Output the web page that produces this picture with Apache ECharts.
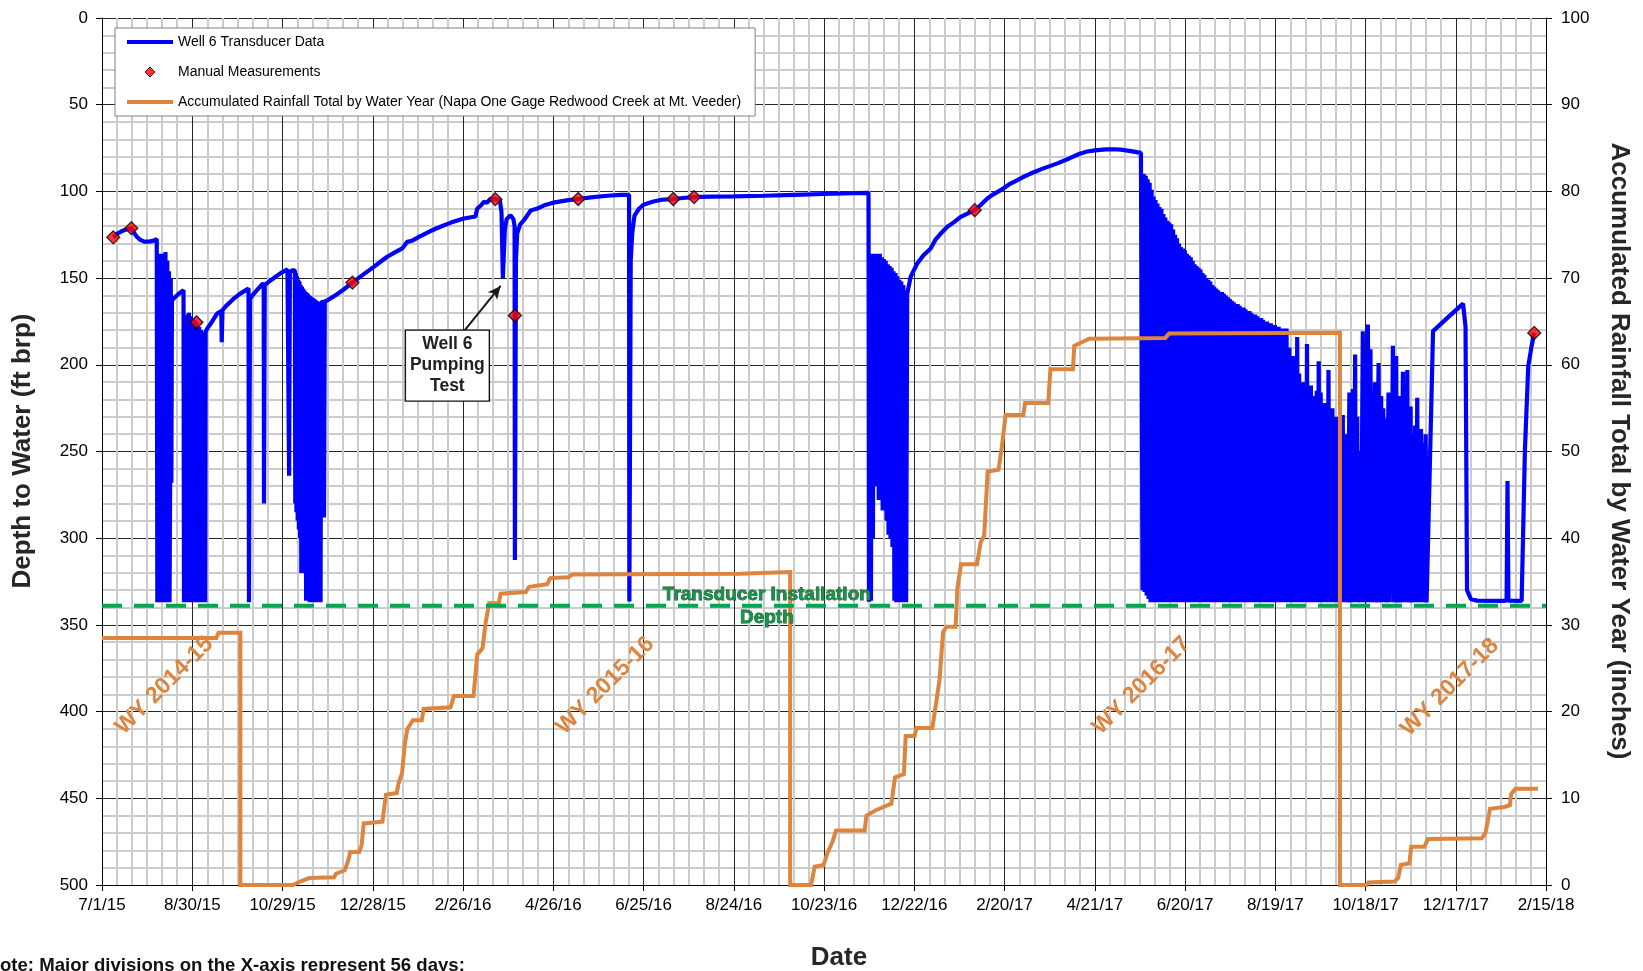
<!DOCTYPE html>
<html>
<head>
<meta charset="utf-8">
<title>Well 6 Hydrograph</title>
<script src="https://cdn.jsdelivr.net/npm/echarts@6/dist/echarts.min.js"></script>
<style>
html,body{margin:0;padding:0;background:#fff;}
#chart{width:1643px;height:971px;}
</style>
</head>
<body>
<div id="chart"></div>
<script>
// x values are days counted from 7/1/15 (day 0); major divisions every 60 days.
const xTickLabels = ['7/1/15','8/30/15','10/29/15','12/28/15','2/26/16','4/26/16','6/25/16','8/24/16',
  '10/23/16','12/22/16','2/20/17','4/21/17','6/20/17','8/19/17','10/18/17','12/17/17','2/15/18'];

// Well 6 transducer record: [day, depth to water (ft brp)]
const wellTransducer = [
  [7.5,126.5],[10,124.5],[13,123],[16,122],[19.5,121.2],[21,123.5],[23,126],[25.5,128],[28,129],[31,129],[34,128.5],[36.4,127.5],
  [36.6,127],[36.8,337],[37.3,337],[37.7,150],[38,337],[38.4,216],[38.7,136],[39.1,337],[39.5,337],[39.9,137],[40.3,337],[40.7,200],
  [41.1,136],[41.5,337],[41.9,337],[42.2,135],[42.6,337],[43,337],[43.4,140],[43.8,337],[44.2,250],[44.5,146],[44.9,337],[45.3,268],
  [45.7,150],[46.1,268],[46.5,163],[48.5,161],[51,159],[54.2,157],
  [54.5,337],[54.9,337],[55.4,172],[55.8,337],[56.2,337],[56.6,171],[57,337],[57.4,337],[57.8,170],[58.2,337],[58.6,337],[59,172],
  [59.4,337],[59.8,337],[60.2,173],[60.6,337],[61,337],[61.4,174],[61.8,337],[62.2,337],[62.8,175.5],[63.4,176],[63.8,337],[64.2,337],
  [64.6,178],[65,337],[65.4,337],[65.8,180],[66.2,337],[66.6,337],[67,181],[67.4,337],[67.8,337],[68.2,182],[68.6,337],[68.9,181],
  [70,179],[72.5,176],[76.5,170.5],[79.3,169],[79.6,187],[80.1,168.5],[82.5,166],[85.4,163.7],[88,161.5],[91,159.5],[94,157.8],[97.4,156],
  [97.7,337],[98.4,162],[100,160],[103,157],[106,154],[107.5,153],[107.7,280],[108.2,154],[111,152],[115,149.5],[119,147],[123.3,145],
  [124.2,144.8],[124.4,264],[124.9,147],[126.3,145.5],[128.2,145.6],
  [128.5,280],[128.9,147],[129.3,285],[129.7,149],[130.1,290],[130.5,151],[130.9,295],[131.3,152],[131.7,300],[132.1,154],[132.5,320],
  [132.9,155],[133.3,312],[133.7,156],[134.1,305],[134.5,157],[134.9,320],[135.3,158],[135.7,336],[136.1,158.5],[136.5,310],[136.9,159],
  [137.3,320],[137.7,160],[138.1,337],[138.5,160.5],[138.9,337],[139.3,161],[139.7,330],[140.1,161.5],[140.5,337],[140.9,162],
  [141.3,337],[141.7,162.5],[142.1,337],[142.5,163],[142.9,337],[143.3,163.5],[143.7,337],[144.1,163.7],[144.5,337],[144.9,164],
  [145.3,337],[145.7,164],[147.3,163.7],[147.6,288],[148.1,163.5],
  [150,162.7],[155,160],[160,157],[166.5,152.6],[172,149],[180.7,143.5],[186,140],[189.6,137.7],[195,135],[199.6,132.9],[202.9,129.1],
  [206,128.5],[210.7,126.2],[218,123],[225,120.4],[232,118],[240.6,115.6],[248.3,114.5],[249.4,110],[252,108],[253.9,106],[256,106.5],
  [258,104.5],[261.5,104.5],[264.5,105],
  [265.6,112],[266.5,150],[267.2,150],[267.8,122],[269,116],[271.6,113.7],[273.5,116],[274.3,120],[274.5,312.6],[275.2,140],[276,124.3],
  [278,119],[280.5,116.6],[285,111],[289.4,109.9],[294,108],[300,106.5],[310,105],[316.6,104.4],[325,103.4],[336,102.5],[345,102],[350.4,102],
  [350.6,336.5],[351.5,140],[352.5,124],[354,114],[357,110],[360,107.7],[366,106],[372,104.8],[379.8,104.4],[386,103.8],[393.6,103.3],
  [405,103],[420,102.9],[440,102.5],[460,102],[480,101.5],[500,101],[509.6,100.8],
  [509.9,336.7],[510.6,136],[511.2,336],[511.9,136],[512.5,300],[513.2,136],[513.8,265],[514.5,136],[515.1,270],[515.8,136],[516.4,278],
  [517.1,136],[517.7,278],[518.4,138],[519,284],[519.7,139],[520.3,284],[521,140],[521.6,290],[522.3,142],[522.9,298],[523.6,143],
  [524.2,300],[524.9,144],[525.5,305],[526.2,146],[526.8,336],[527.5,147],[528.1,337],[528.8,149],[529.4,337],[530.1,151],[530.7,337],
  [531.4,152],[532,337],[532.7,154],[533.3,337],[534,157],[534.6,337],[535.3,159],
  [537.6,149.3],[540,145],[542,141.6],[546,137],[550.9,132.9],[554,128],[557.6,124.3],[562,120.4],[566,118],[570.9,114.7],[575,113],
  [580.2,110.8],[584,108],[588.6,104.1],[592,102],[597.5,99.3],[603,96],[608.6,93.5],[613,91.5],[617.4,89.7],[625,87],[635.6,83.7],
  [643,81],[650,78.3],[655,77],[660,76.3],[667.4,75.8],[672,75.7],[677.3,75.9],[684,76.8],[690.7,77.8],
  [691.8,330],[692.6,90],[693.2,331],[693.9,91],[694.5,333],[695.2,93],[695.8,335],[696.5,95],[697.1,337],[697.8,99],[698.4,337],
  [699.1,103],[699.7,337],[700.4,105],[701,337],[701.7,107],[702.3,337],[703,109],[703.6,337],[704.3,110],[704.9,337],[705.6,113],
  [706.2,337],[706.9,115],[707.5,337],[708.2,117],[708.8,337],[709.5,118],[710.1,337],[710.8,119],[711.4,337],[712.1,122],[712.7,337],
  [713.4,125],[714,337],[714.7,127],[715.3,337],[716,130],[716.6,337],[717.3,132],[717.9,317],[718.6,133],[719.2,337],[719.9,134],
  [720.5,337],[721.2,136],[721.8,337],[722.5,137],[723.1,337],[723.8,138],[724.4,308],[725.1,140],[725.7,337],[726.4,142],[727,337],
  [727.7,143],[728.3,337],[729,144],[729.6,337],[730.3,145],[730.9,337],[731.6,147],[732.2,337],[732.9,148],[733.5,337],[734.2,150],
  [734.8,337],[735.5,151],[736.1,337],[736.8,152],[737.4,337],[738.1,154],[738.7,337],[739.4,155],[740,337],[740.7,156],[741.3,337],
  [742,157],[742.6,337],[743.3,158],[743.9,337],[744.6,158],[745.2,337],[745.9,159],[746.5,337],[747.2,160],[747.8,337],[748.5,161],
  [749.1,337],[749.8,162],[750.4,337],[751.1,163],[751.7,337],[752.4,164],[753,337],[753.7,165],[754.3,337],[755,165],[755.6,337],
  [756.3,166],[756.9,337],[757.6,167],[758.2,337],[758.9,167],[759.5,337],[760.2,168],[760.8,337],[761.5,169],[762.1,337],[762.8,169],
  [763.4,337],[764.1,170],[764.7,337],[765.4,171],[766,337],[766.7,171],[767.3,337],[768,172],[768.6,337],[769.3,173],[769.9,337],
  [770.6,173],[771.2,337],[771.9,174],[772.5,337],[773.2,175],[773.8,337],[774.5,175],[775.1,337],[775.8,176],[776.4,337],[777.1,176],
  [777.7,337],[778.4,177],[779,337],[779.7,177],[780.3,337],[781,178],[781.6,337],[782.3,178],[782.9,337],[783.6,179],[784.2,337],
  [784.9,179],[785.5,337],[786.2,180],[786.8,337],[787.5,179],[788.1,337],
  [789.4,190],[790,337],[790.7,200],[791.3,337],[792,195],[792.6,337],[793.3,205],[793.9,337],[794.6,184],[795.2,337],[795.9,205],
  [796.5,337],[797.2,213],[797.8,337],[798.5,210],[799.1,337],[799.8,215],[800.4,337],[801.1,188],[801.7,337],[802.4,215],[803,337],
  [803.7,212],[804.3,337],[805,218],[805.6,337],[806.3,220],[806.9,337],[807.6,215],[808.2,337],[808.9,198],[809.5,337],[810.2,216],
  [810.8,337],[811.5,222],[812.1,337],[812.8,222],[813.4,337],[814.1,225],[814.7,337],[815.4,203],[816,337],[816.7,225],[817.3,337],
  [818,225],[818.6,337],[819.3,230],[819.9,337],[820.6,230],[821.2,337],[822,232],[822.6,337],[823.5,235],[824.1,337],[824.9,229],
  [825.5,337],[826.2,245],[826.8,337],[827.4,240],[828,337],[829.3,216],[829.9,337],[831.6,214],[832.2,337],[833.1,194],[833.7,337],
  [834.5,230],[835.1,337],[836.2,250],[837,337],[838.2,180.6],[839.5,337],[841.6,176.8],[842.2,337],[843.3,191],[843.9,337],[845,215],
  [845.6,337],[846.3,210],[846.9,337],[848.7,199],[849.3,337],[850.4,218],[851,337],[851.8,225],[852.4,337],[853.1,231],[853.7,337],
  [855.3,216],[855.9,337],[856.8,240],[857.4,290],[858.2,189],[858.8,337],[860.4,195],[861,337],[862.7,218],[863.3,337],[864.9,204],
  [865.5,337],[866.3,225],[866.9,337],[867.8,203],[868.4,337],[870,224],[870.6,337],[871.6,240],[872.2,337],[873,235],[873.6,337],
  [874.4,219],[875,337],[875.7,240],[876.3,337],[876.9,237],[877.5,337],[878.3,245],[878.9,337],[880,240],[880.6,337],[881.1,337],
  [884.9,180.6],[895,172.5],[904.9,164.7],[905.5,170],[906.5,178],[907.5,330],[910,335],[914,336],[930,336.2],[933.8,336],[934.4,267],
  [935,336],[943.8,336.2],[946,248.8],[948.2,200.8],[950.4,189.3],[952.2,181.6]
];

// Manual depth-to-water measurements: [day, depth (ft brp)]
const manualMeasurements = [
  [7.5,126.5],[19.5,121.2],[62.8,175.5],[166.5,152.6],[261.5,104.5],[274.5,171.6],
  [316.6,104.4],[379.8,104.4],[393.6,103.3],[580.2,110.8],[952.2,181.6]
];

// Accumulated rainfall by water year (resets each Oct 1): [day, inches]
const rainfallTotal = [
  [0,28.5],[76,28.5],[77.5,29.1],[92,29.1],[92,0],
  [127,0],[131.7,0.4],[137.6,0.8],[154.3,0.9],[155.5,1.3],[161.4,1.7],[162.6,2.3],[163.8,2.9],[165,3.8],[171,3.8],[172.6,4.6],[174,7.1],
  [186.4,7.3],[188.8,10.4],[196,10.6],[197.1,11.7],[199.5,12.9],[201.2,16.1],[203,18],[206.7,19],[212.6,19],[213.8,20.3],[231.7,20.5],
  [234,21.8],[247,21.8],[249.5,26.6],[253,27.3],[255,30.2],[257.4,32.5],[263.8,32.5],[265,33.6],[281.7,33.8],[284,34.4],[296,34.7],
  [298,35.4],[310,35.5],[312.6,35.8],[424,35.9],[425.2,36.1],[457.5,36.1],[457.5,0],
  [471.4,0],[473.8,2.1],[479.7,2.3],[482.1,3.6],[485.7,5.0],[488,6.3],[507,6.3],[508.2,8.0],[514.1,8.6],[524.8,9.4],[527.2,12.4],
  [533.1,12.8],[534.3,17.2],[540.2,17.2],[541.4,18.1],[552,18.1],[554.4,20.8],[556.8,23.7],[559.2,29.2],[561.5,29.8],[567.5,29.8],
  [568.7,34.2],[571.1,37.0],[581.7,37.0],[584.1,39.5],[586.5,40.3],[588.8,47.7],[596,47.9],[598.3,50.6],[600.7,54.2],[612.5,54.2],
  [613.7,55.6],[629.1,55.6],[630.5,59.5],[645.5,59.5],[646.4,62.2],[651.4,62.6],[656.3,63.0],[706.9,63.1],[709.4,63.6],[823,63.7],[823,0],
  [840.7,0],[842,0.3],[859.3,0.4],[861.7,0.8],[863.5,2.3],[869.2,2.5],[870.4,4.4],[879.1,4.4],[881.5,5.3],[917.4,5.4],[919.9,6.1],
  [922.8,8.8],[932.3,9.0],[936,9.2],[936.8,10.5],[939.7,11.1],[954.6,11.1]
];

// Depth at which the transducer was installed (ft brp)
const installDepth = 339;

const waterYears = ['WY 2014-15','WY 2015-16','WY 2016-17','WY 2017-18'];

const WELL = 'Well 6 Transducer Data';
const MANUAL = 'Manual Measurements';
const RAIN = 'Accumulated Rainfall Total by Water Year (Napa One Gage Redwood Creek at Mt. Veeder)';
const FONT = "'Liberation Sans', Arial, Helvetica, sans-serif";
const ORANGE = '#DD843E';
const BLUE = '#0000ff';

const chart = echarts.init(document.getElementById('chart'), null, {renderer: 'canvas'});

const majorGrid = {show: true, lineStyle: {color: '#262626', width: 1, type: 'solid'}};
const minorGrid = {show: true, lineStyle: {color: '#cbcbcb', width: 2, type: 'solid'}};
const axisText = {color: '#000', fontSize: 17, fontFamily: FONT};

// legend swatches: a thick bar for the lines, a small diamond for the measurements
const BAR_ICON = 'path://M0,0 L46,0 L46,4 L0,4 Z';
const DIAMOND_ICON = 'path://M5,0 L10,5 L5,10 L0,5 Z';

chart.setOption({
  animation: false,
  backgroundColor: '#fff',
  textStyle: {fontFamily: FONT},
  grid: {left: 102, right: 97, top: 18, bottom: 86, containLabel: false, outerBoundsMode: 'none'},
  legend: {
    left: 115, top: 28, orient: 'vertical', align: 'left',
    backgroundColor: '#fff', borderColor: '#808080', borderWidth: 1, borderRadius: 0,
    padding: [7, 14, 7, 12], itemGap: 16, itemWidth: 46, itemHeight: 10,
    selectedMode: false,
    textStyle: {fontSize: 14, color: '#000', fontFamily: FONT},
    data: [
      {name: WELL, icon: BAR_ICON, itemStyle: {color: BLUE, borderWidth: 0}},
      {name: MANUAL, icon: DIAMOND_ICON, itemStyle: {color: '#ff0000', borderColor: '#000', borderWidth: 1}},
      {name: RAIN, icon: BAR_ICON, itemStyle: {color: ORANGE, borderWidth: 0}}
    ]
  },
  xAxis: {
    type: 'value', min: 0, max: 960, interval: 60, position: 'bottom',
    axisLine: {show: true, onZero: false, lineStyle: {color: '#000', width: 1}},
    axisTick: {show: true, inside: false, length: 6, lineStyle: {color: '#000'}},
    axisLabel: Object.assign({margin: 12, showMinLabel: true, showMaxLabel: true, hideOverlap: false,
      formatter: v => xTickLabels[Math.round(v / 60)] || ''}, axisText),
    splitLine: majorGrid,
    minorTick: {show: false, splitNumber: 6},
    minorSplitLine: minorGrid
  },
  yAxis: [{
    type: 'value', inverse: true, min: 0, max: 500, interval: 50, position: 'left',
    axisLine: {show: true, lineStyle: {color: '#000', width: 1}},
    axisTick: {show: true, inside: false, length: 6, lineStyle: {color: '#000'}},
    axisLabel: Object.assign({margin: 14, showMinLabel: true, showMaxLabel: true}, axisText),
    splitLine: majorGrid,
    minorTick: {show: false, splitNumber: 5},
    minorSplitLine: minorGrid
  }, {
    type: 'value', min: 0, max: 100, interval: 10, position: 'right',
    axisLine: {show: true, lineStyle: {color: '#000', width: 1}},
    axisTick: {show: true, inside: false, length: 6, lineStyle: {color: '#000'}},
    axisLabel: Object.assign({margin: 15, showMinLabel: true, showMaxLabel: true}, axisText),
    splitLine: {show: false}
  }],
  series: [{
    name: WELL, type: 'line', xAxisIndex: 0, yAxisIndex: 0, z: 2,
    data: wellTransducer, symbol: 'none', showSymbol: false, clip: true,
    color: BLUE,
    lineStyle: {color: BLUE, width: 4.2, join: 'bevel', cap: 'butt'}
  }, {
    name: RAIN, type: 'line', xAxisIndex: 0, yAxisIndex: 1, z: 3,
    data: rainfallTotal, symbol: 'none', showSymbol: false, clip: true,
    color: ORANGE,
    lineStyle: {color: ORANGE, width: 4, join: 'miter'}
  }, {
    name: 'Transducer Installation Depth', type: 'line', xAxisIndex: 0, yAxisIndex: 0, z: 4,
    data: [[0, installDepth], [960, installDepth]], symbol: 'none', showSymbol: false,
    lineStyle: {color: '#00a651', width: 4, type: [20, 12]},
    markPoint: {
      symbol: 'rect', symbolSize: 1, itemStyle: {color: 'rgba(0,0,0,0)'},
      label: {
        show: true, position: 'inside', formatter: 'Transducer Installation\nDepth',
        fontSize: 19, fontWeight: 'bold', lineHeight: 23, color: '#16944a',
        textBorderColor: '#0c3f20', textBorderWidth: 0.8, fontFamily: FONT
      },
      data: [{coord: [442, installDepth]}]
    }
  }, {
    name: MANUAL, type: 'scatter', xAxisIndex: 0, yAxisIndex: 0, z: 6,
    data: manualMeasurements, symbol: 'diamond', symbolSize: 13,
    itemStyle: {color: '#ff0000', borderColor: '#000', borderWidth: 1.3},
    markLine: {
      silent: true, symbol: ['none', 'arrow'], symbolSize: [9, 13],
      lineStyle: {color: '#1a1a1a', width: 2, type: 'solid'},
      label: {show: false},
      data: [[{coord: [241.2, 180]}, {coord: [265, 154.5]}]]
    },
    markPoint: {
      symbol: 'rect', symbolSize: [84, 71],
      itemStyle: {color: '#fff', borderColor: '#111', borderWidth: 1.3},
      label: {
        show: true, position: 'inside', formatter: 'Well 6\nPumping\nTest',
        fontSize: 17.5, fontWeight: 'bold', lineHeight: 21, color: '#222', fontFamily: FONT
      },
      data: [{coord: [229.6, 200.5]}]
    }
  }]
});

// Water-year labels, axis titles and footnote
const wyAnchors = [[41.5, 385], [334.6, 385], [691, 385], [896, 386]];
const graphics = waterYears.map((txt, i) => {
  const p = chart.convertToPixel({xAxisIndex: 0, yAxisIndex: 0}, wyAnchors[i]);
  return {
    type: 'text', x: p[0], y: p[1], rotation: Math.PI / 4, z: 10,
    style: {text: txt, fill: ORANGE, font: 'bold 23px ' + FONT, align: 'center', verticalAlign: 'middle'}
  };
});
graphics.push(
  {type: 'text', x: 23, y: 451, rotation: Math.PI / 2, z: 10,
   style: {text: 'Depth to Water (ft brp)', fill: '#262626', font: 'bold 26px ' + FONT, align: 'center', verticalAlign: 'middle'}},
  {type: 'text', x: 1619, y: 451, rotation: -Math.PI / 2, z: 10,
   style: {text: 'Accumulated Rainfall Total by Water Year (inches)', fill: '#262626', font: 'bold 26px ' + FONT, align: 'center', verticalAlign: 'middle'}},
  {type: 'text', x: 839, y: 958, z: 10,
   style: {text: 'Date', fill: '#262626', font: 'bold 26px ' + FONT, align: 'center', verticalAlign: 'middle'}},
  {type: 'text', x: -13.5, y: 966, z: 10,
   style: {text: 'Note: Major divisions on the X-axis represent 56 days:', fill: '#111', font: 'bold 18.6px ' + FONT, align: 'left', verticalAlign: 'middle'}}
);
chart.setOption({graphic: graphics});
</script>
</body>
</html>
